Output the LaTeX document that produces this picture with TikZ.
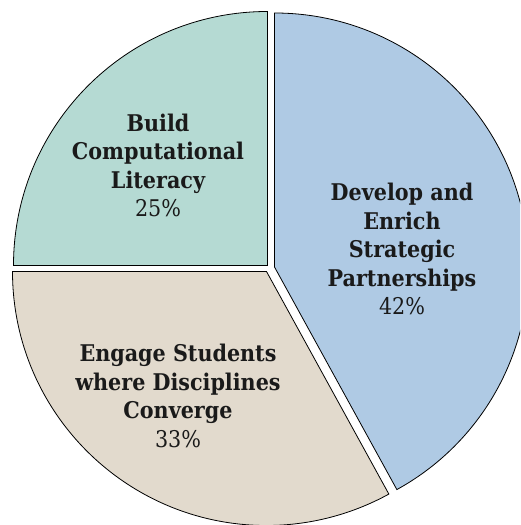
\documentclass[tikz,border=0pt]{standalone}
\usepackage{fontspec}
\setmainfont{DejaVu Serif Condensed}
\usepackage{xcolor}
\definecolor{litgreen}{HTML}{B5DAD3}
\definecolor{partblue}{HTML}{AFCAE4}
\definecolor{convtan}{HTML}{E2DACD}
\definecolor{ink}{HTML}{1A1A1A}
\usepackage{tikz}
\usetikzlibrary{calc}

\begin{document}
\begin{tikzpicture}[x=1pt, y=1pt,
    slice/.style={draw=black, line width=0.8pt, line join=miter},
    share/.style={align=center, text=ink, inner sep=0pt,
      font=\fontsize{23}{28.5}\selectfont\bfseries}]

      \newcommand\pieR{254}

      \useasboundingbox (0, 0) rectangle (520, 525);
      \clip (0, 0) rectangle (520, 525);

      \fill [white] (0, 0) rectangle (520, 525);
      \filldraw [slice, fill=litgreen] (267.5, 259.5) -- ++(90:\pieR) arc [start angle=90, end angle=180, radius=\pieR] -- cycle;
      \filldraw [slice, fill=partblue] (274.5, 258) -- ++(90:\pieR) arc [start angle=90, end angle=-61.2, radius=\pieR] -- cycle;
      \filldraw [slice, fill=convtan] (266.5, 253.5) -- ++(180:\pieR) arc [start angle=180, end angle=298.8, radius=\pieR] -- cycle;

      \node [share] (build) at (158, 359.5) {Build\\Computational\\Literacy\\{\mdseries 25\%}};
      \node [share] (partner) at (402, 276) {Develop and\\Enrich\\Strategic\\Partnerships\\{\mdseries 42\%}};
      \node [share] (engage) at (178, 129) {Engage Students\\where Disciplines\\Converge\\{\mdseries 33\%}};

    \end{tikzpicture}
\end{document}
